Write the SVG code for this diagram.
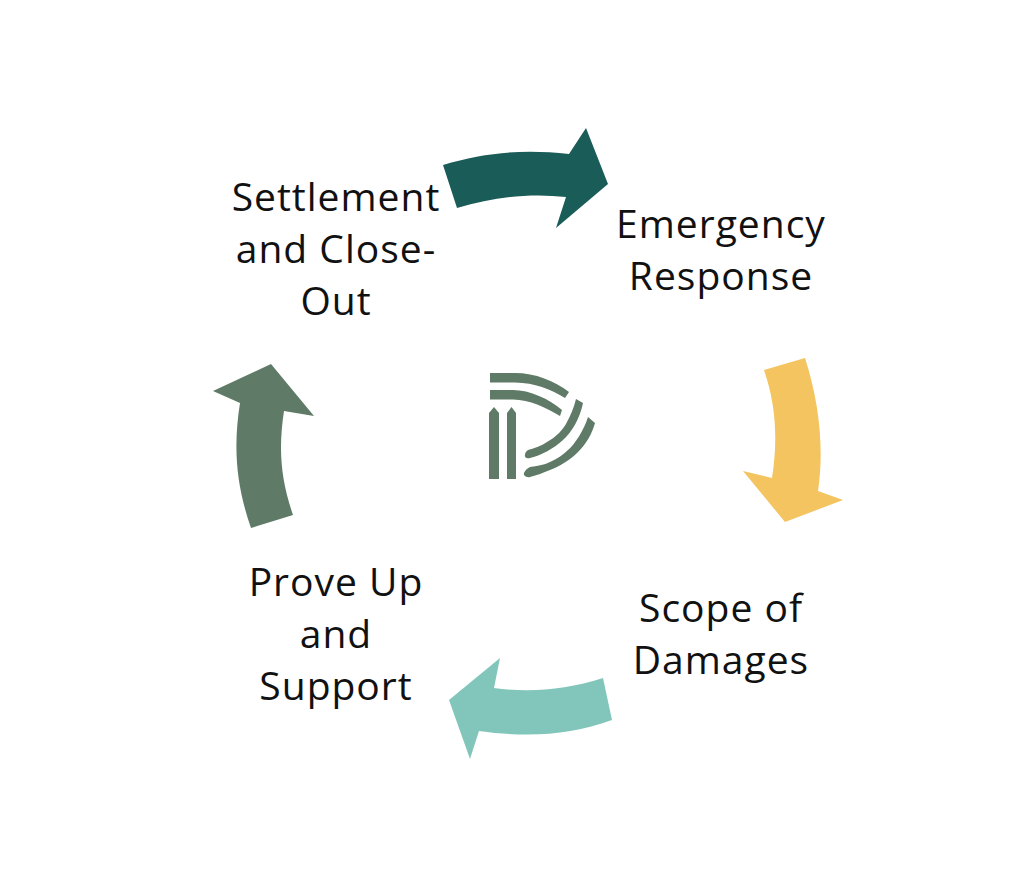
<svg xmlns="http://www.w3.org/2000/svg" width="1014" height="890" viewBox="0 0 1014 890">
<style>
text{font-family:"Open Sans","Noto Sans",sans-serif;font-size:39px;letter-spacing:1px;fill:#111;text-anchor:middle}
.logo{fill:#5f7a66}
</style>
<rect width="1014" height="890" fill="#fff"/>
<g id="connectors">
<path id="arrow-top" fill="#1a5c58" d="M443 165C485 152 525 149 569 154L586 128L608 184L556 228L566 197C530 193 495 197 457 208Z"/>
<path id="arrow-right" fill="#f3c45f" d="M764 370L805 358C820 405 824 450 818 491L843 500L785 522L743 471L772 478C778 440 776 405 764 370Z"/>
<path id="arrow-bottom" fill="#82c6bb" d="M612 720C570 735 530 738 479 731L470 759L449 700L500 658L494 688C530 693 565 690 603 678Z"/>
<path id="arrow-left" fill="#5f7a66" d="M293 515L251 528C236 485 233 447 240 403L213 391L271 364L314 416L284 411C278 450 281 480 293 515Z"/>
</g>
<g id="settlement"><text x="336" y="211">Settlement</text><text x="336" y="263">and Close-</text><text x="336" y="315">Out</text></g>
<g id="emergency"><text x="721" y="238">Emergency</text><text x="721" y="290">Response</text></g>
<g id="scope"><text x="721" y="622">Scope of</text><text x="721" y="674">Damages</text></g>
<g id="prove"><text x="336" y="596">Prove Up</text><text x="336" y="648">and</text><text x="336" y="700">Support</text></g>
<g id="logo" class="logo">
<path d="M490 373H515C535 373 555 381 569 392L565 398C550 389 535 383 515 382.500H490Z"/>
<path d="M490 390H513C530 390 549 399 562 410L560 416C545 407 530 400 513 399.500H490Z"/>
<path d="M489 479V413L494 407L499 413V479Z"/>
<path d="M507 479V413L511.500 407L516 413V479Z"/>
<path d="M576 399L583 403C580 418 572 432 563 440C553 449 542 455 530 458C527 459 524 457 525 455C525 452 527 451 528 450C535 448 541 446 547 442C556 437 563 430 567 422C570 416 574 408 576 399Z"/>
<path d="M588 417L595 423C592 434 586 444 578 452C570 460 560 466 550 470C543 473 537 475 530 477C526 478 523 475 524 473C525 470 528 468 530 467C537 466 544 465 550 462C557 459 563 455 568 450C575 444 584 430 588 417Z"/>
</g>
</svg>
